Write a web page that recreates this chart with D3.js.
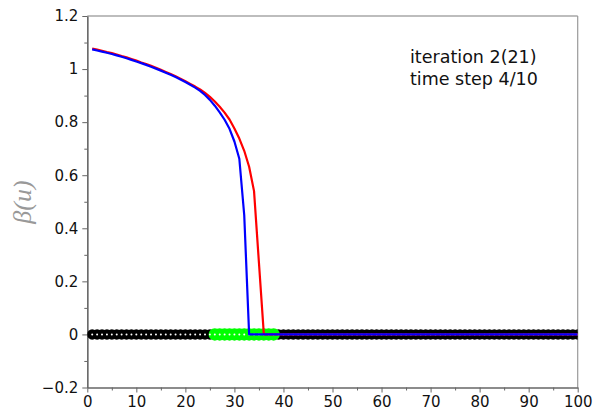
<!DOCTYPE html>
<html>
<head>
<meta charset="utf-8">
<script src="https://cdn.jsdelivr.net/npm/d3@7/dist/d3.min.js"></script>
<style>
  html, body { margin: 0; padding: 0; background: #fff; }
  svg { display: block; }
  .tick text { font-family: "DejaVu Sans", sans-serif; font-size: 15px; fill: #111; }
</style>
</head>
<body>
<svg id="chart" width="595" height="414"></svg>
<script>
// Mesh nodes along u
const nodes = [
  1,2,3,4,5,6,7,8,9,10,11,12,13,14,15,16,17,18,19,20,
  21,22,23,24,25,26,27,28,29,30,31,32,33,34,35,36,37,38,39,40,
  41,42,43,44,45,46,47,48,49,50,51,52,53,54,55,56,57,58,59,60,
  61,62,63,64,65,66,67,68,69,70,71,72,73,74,75,76,77,78,79,80,
  81,82,83,84,85,86,87,88,89,90,91,92,93,94,95,96,97,98,99,100
];

// Node markers on the u axis (all at zero)
const nodeLevel = [
  0,0,0,0,0,0,0,0,0,0,0,0,0,0,0,0,0,0,0,0,
  0,0,0,0,0,0,0,0,0,0,0,0,0,0,0,0,0,0,0,0,
  0,0,0,0,0,0,0,0,0,0,0,0,0,0,0,0,0,0,0,0,
  0,0,0,0,0,0,0,0,0,0,0,0,0,0,0,0,0,0,0,0,
  0,0,0,0,0,0,0,0,0,0,0,0,0,0,0,0,0,0,0,0
];

// Active nodes (front region)
const activeNodes = [26,27,28,29,30,31,32,33,34,35,36,37,38];

// beta(u), previous iterate (red)
const betaPrev = [
  1.077,1.073,1.069,1.064,1.060,1.055,1.049,1.044,1.038,1.032,
  1.025,1.019,1.012,1.005,0.997,0.989,0.981,0.973,0.964,0.954,
  0.944,0.934,0.923,0.910,0.895,0.878,0.858,0.836,0.810,0.776,
  0.738,0.692,0.632,0.540,0.270,0,0,0,0,0,
  0,0,0,0,0,0,0,0,0,0,0,0,0,0,0,0,0,0,0,0,
  0,0,0,0,0,0,0,0,0,0,0,0,0,0,0,0,0,0,0,0,
  0,0,0,0,0,0,0,0,0,0,0,0,0,0,0,0,0,0,0,0
];

// beta(u), current iterate (blue)
const betaCurr = [
  1.0740,1.0700,1.0658,1.0613,1.0566,1.0516,1.0463,1.0407,1.0348,1.0286,
  1.0223,1.0157,1.0088,1.0016,0.9941,0.9863,0.9782,0.9697,0.9608,0.9514,
  0.9410,0.9302,0.918,0.9025,0.884,0.862,0.837,0.809,0.775,0.727,
  0.662,0.450,0,0,0,0,0,0,0,0,
  0,0,0,0,0,0,0,0,0,0,0,0,0,0,0,0,0,0,0,0,
  0,0,0,0,0,0,0,0,0,0,0,0,0,0,0,0,0,0,0,0,
  0,0,0,0,0,0,0,0,0,0,0,0,0,0,0,0,0,0,0,0
];

const xTicks = [0,10,20,30,40,50,60,70,80,90,100];
const xMinorTicks = [5,15,25,35,45,55,65,75,85,95];
const yTicks = [-0.2,0,0.2,0.4,0.6,0.8,1,1.2];
const yMinorTicks = [-0.1,0.1,0.3,0.5,0.7,0.9,1.1];
const annotation = ["iteration 2(21)", "time step 4/10"];
const yLabel = "β(u)";

const svg = d3.select("#chart");
const plotLeft = 87.3, plotRight = 577.7, plotTop = 16, plotBottom = 387.5;

const x = d3.scaleLinear().domain([0, 100]).range([plotLeft, plotRight]);
const y = d3.scaleLinear().domain([-0.2, 1.2]).range([plotBottom, plotTop]);

svg.append("defs").append("clipPath").attr("id", "plotClip")
  .append("rect").attr("x", plotLeft).attr("y", plotTop)
  .attr("width", plotRight - plotLeft).attr("height", plotBottom - plotTop);

// Frame: light top and right edges
svg.append("line").attr("x1", plotLeft).attr("x2", plotRight).attr("y1", plotTop).attr("y2", plotTop)
  .attr("stroke", "#bdbdbd").attr("stroke-width", 2);
svg.append("line").attr("x1", plotRight).attr("x2", plotRight).attr("y1", plotTop).attr("y2", plotBottom)
  .attr("stroke", "#9a9a9a").attr("stroke-width", 1.2);

// Axes
function styleAxis(g) {
  g.select(".domain").attr("stroke", "#666").attr("stroke-width", 1.2);
  g.selectAll(".tick line").attr("stroke", "#666").attr("stroke-width", 1);
}
const fmt = d => (Math.abs(d) < 1e-9 ? "0" : d3.format("~g")(d));

svg.append("g").attr("transform", `translate(0,${plotBottom})`)
  .call(d3.axisBottom(x).tickValues(xMinorTicks).tickSize(3).tickFormat("").tickSizeOuter(0))
  .call(styleAxis);
svg.append("g").attr("transform", `translate(0,${plotBottom})`)
  .call(d3.axisBottom(x).tickValues(xTicks).tickSize(5).tickPadding(4).tickFormat(fmt).tickSizeOuter(0))
  .call(styleAxis);

svg.append("g").attr("transform", `translate(${plotLeft},0)`)
  .call(d3.axisLeft(y).tickValues(yMinorTicks).tickSize(3).tickFormat("").tickSizeOuter(0))
  .call(styleAxis);
svg.append("g").attr("transform", `translate(${plotLeft},0)`)
  .call(d3.axisLeft(y).tickValues(yTicks).tickSize(5).tickPadding(4).tickFormat(fmt).tickSizeOuter(0))
  .call(styleAxis);

// Plot content
const plot = svg.append("g").attr("clip-path", "url(#plotClip)");

const nodeData = nodes.map((u, i) => ({ u, v: nodeLevel[i] }));
const activeData = nodeData.filter(d => activeNodes.includes(d.u));

plot.append("g").selectAll("circle").data(nodeData).join("circle")
  .attr("cx", d => x(d.u)).attr("cy", d => y(d.v)).attr("r", 5.2).attr("fill", "#000");
plot.append("g").selectAll("circle").data(activeData).join("circle")
  .attr("cx", d => x(d.u)).attr("cy", d => y(d.v)).attr("r", 6.2).attr("fill", "#00ff00");
plot.append("g").selectAll("circle").data(nodeData).join("circle")
  .attr("cx", d => x(d.u)).attr("cy", d => y(d.v)).attr("r", 1).attr("fill", "#fff");

const line = d3.line().x(d => x(d.u)).y(d => y(d.v));
plot.append("path").datum(nodes.map((u, i) => ({ u, v: betaPrev[i] })))
  .attr("d", line).attr("fill", "none").attr("stroke", "#ff0000").attr("stroke-width", 2.2)
  .attr("stroke-linejoin", "round");
plot.append("path").datum(nodes.map((u, i) => ({ u, v: betaCurr[i] })))
  .attr("d", line).attr("fill", "none").attr("stroke", "#0000ff").attr("stroke-width", 2.2)
  .attr("stroke-linejoin", "round");

// Annotation
svg.append("g").selectAll("text").data(annotation).join("text")
  .attr("x", 410).attr("y", (d, i) => 62.5 + i * 22.5)
  .attr("font-family", "DejaVu Sans, sans-serif").attr("font-size", 17.5)
  .attr("fill", "#111").text(d => d);

// Y axis label
svg.append("text")
  .attr("transform", "translate(31,202) rotate(-90)")
  .attr("text-anchor", "middle")
  .attr("font-family", "Liberation Serif, serif").attr("font-style", "italic")
  .attr("font-size", 26).attr("fill", "#999").text(yLabel);
</script>
</body>
</html>
